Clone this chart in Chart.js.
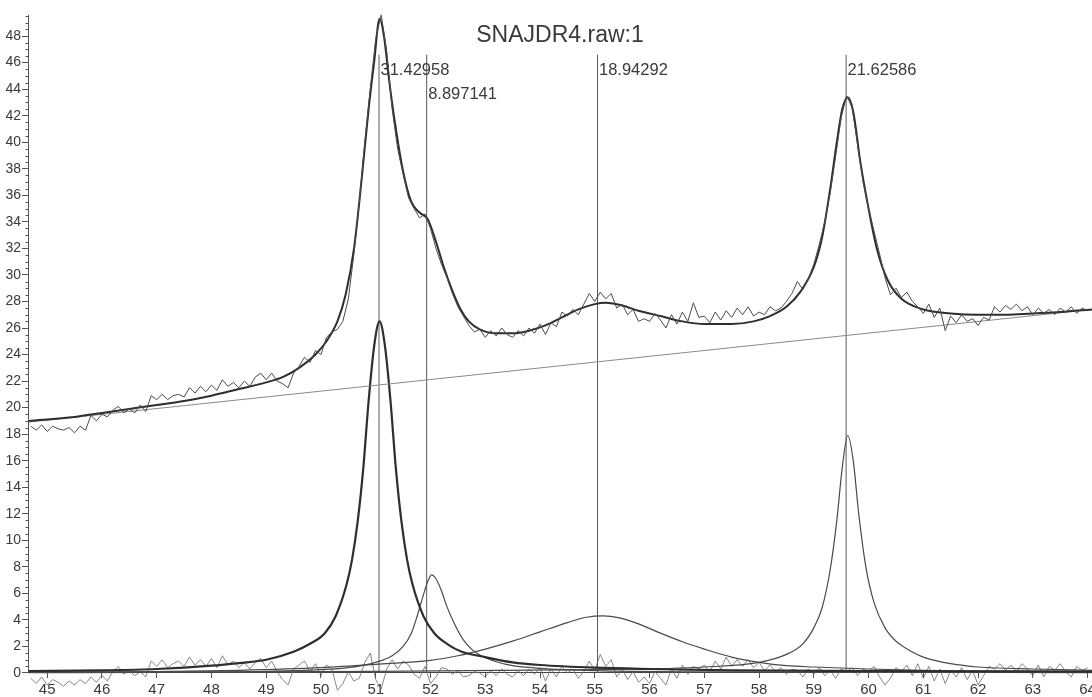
<!DOCTYPE html>
<html>
<head>
<meta charset="utf-8">
<title>SNAJDR4.raw:1</title>
<script src="https://cdn.jsdelivr.net/npm/chart.js@4.4.1/dist/chart.umd.min.js"></script>
<style>
  html, body { margin: 0; padding: 0; background: #fff; }
</style>
</head>
<body>
<canvas id="Chart" width="1092" height="697"></canvas>
<script>
// measured scan: 2-theta grid start / step
const SCAN_START = 44.7;
const SCAN_STEP = 0.1;

// measured counts, one value per step
const rawCounts = [
  18.6, 18.3, 18.7, 18.2, 18.6, 18.4, 18.3, 18.5, 18.1, 18.6,
  18.3, 19.4, 19.0, 19.5, 19.3, 19.8, 20.1, 19.6, 19.9, 19.6,
  20.2, 19.7, 20.9, 20.6, 21.0, 20.6, 20.9, 21.0, 20.8, 21.5,
  21.1, 21.6, 21.2, 21.7, 21.3, 22.1, 21.6, 21.9, 21.5, 22.0,
  21.6, 22.3, 22.6, 22.1, 22.6, 22.0, 21.8, 21.5, 22.6, 23.1,
  23.8, 23.4, 24.3, 24.0, 25.3, 25.7, 25.9, 26.5, 28.2, 31.5,
  35.5, 40.0, 44.0, 47.8, 49.6, 46.9, 42.5, 39.5, 37.6, 35.8,
  35.0, 34.3, 34.6, 33.5, 32.0, 30.8, 29.8, 28.6, 27.6, 26.9,
  26.2, 25.7, 25.9, 25.3, 25.8, 25.4, 26.0, 25.5, 25.3, 25.8,
  25.4, 26.0, 25.6, 26.3, 25.5, 26.4, 26.1, 27.2, 26.9, 27.4,
  27.0, 27.8, 28.6, 28.0, 28.7, 28.2, 28.6, 27.5, 27.8, 27.0,
  27.4, 26.5, 26.7, 26.5, 27.1, 26.6, 26.0, 27.0, 26.3, 27.2,
  26.5, 27.9, 26.8, 26.9, 26.4, 27.2, 26.6, 27.3, 26.8, 27.5,
  27.0, 27.6, 26.9, 27.2, 27.0, 27.6, 27.3, 27.5, 28.0, 28.6,
  29.5, 28.9, 29.7, 30.8, 32.3, 34.0, 36.2, 39.0, 41.9, 43.5,
  42.6, 39.8, 37.0, 35.0, 33.3, 31.6, 29.8, 28.5, 29.0, 28.3,
  28.7, 28.0, 27.6, 27.1, 27.8, 26.8, 27.5, 25.8, 26.9, 26.4,
  27.0, 26.5, 26.7, 26.2, 26.8, 26.6, 27.6, 27.2, 27.7, 27.4,
  27.8, 27.3, 27.6, 27.0, 27.5, 27.1, 27.4, 27.0, 27.5, 27.2,
  27.6, 27.1, 27.5, 27.3
];

// difference curve (measured minus fitted), same grid
const diffCounts = [
  -0.4, -0.8, -0.3, -0.9, -0.5, -0.7, -1.0, -0.6, -0.9, -0.5,
  -0.8, -0.3, -0.7, -0.2, -0.6, 0.1, 0.5, -0.1, 0.2, -0.2,
  0.1, -0.3, 0.9, 0.5, 1.0, 0.4, 0.7, 0.9, 0.5, 1.2,
  0.6, 1.0, 0.5, 1.1, 0.4, 1.3, 0.6, 0.9, 0.4, 0.8,
  0.3, 0.8, 1.1, 0.4, 0.9, 0.1, -0.5, -0.9, 0.3, 0.6,
  0.9, 0.1, 0.7, -0.2, 0.6, 0.3, -1.3, -0.8, 0.1, -0.6,
  -0.4, 0.8, 1.5, -0.5, -1.2, 0.3, 1.0, 0.3, 0.9, 0.6,
  -0.1, -0.4, 0.5, -0.8, -0.3, 0.4, 0.3, -0.1, 0.2, -0.3,
  -0.2, 0.1, 0.0, -0.3, 0.2, -0.2, 0.3, -0.1, -0.3, 0.2,
  -0.2, 0.3, -0.1, 0.4, -0.6, 0.3, -0.3, 0.5, 0.0, 0.3,
  -0.4, 0.1, 0.9, 0.2, 1.4, 0.5, 1.0, -0.3, 0.3, -0.5,
  0.1, -0.7, -0.3, -0.8, 0.1, -0.4, -0.9, 0.3, -0.4, 0.6,
  -0.1, 0.5, 0.3, 0.6, 0.1, 0.9, 0.3, 1.2, 0.5, 1.0,
  0.5, 1.0, 0.4, 0.8, 0.2, 0.6, 0.1, 0.4, -0.1, 0.3,
  0.2, -0.3, 0.3, -0.1, 0.4, -0.2, 0.2, -0.4, 0.3, 0.1,
  0.4, -0.2, 0.3, 0.1, 0.5, -0.3, -0.9, -0.4, 0.4, 0.1,
  0.6, -0.2, 0.7, -0.4, 0.5, -0.6, 0.3, -0.8, 0.2, -0.3,
  0.4, -0.5, 0.2, -0.9, -0.2, 0.5, 0.3, 0.7, 0.2, 0.6,
  0.1, 0.7, 0.3, -0.2, 0.6, -0.3, 0.5, 0.2, 0.7, 0.1,
  -0.3, 0.5, 0.2, 0.4
];

// total fitted profile
const fitAngles = [44.65, 45.5, 46.0, 46.5, 47.0, 47.5, 48.0, 48.5, 49.0, 49.3,
  49.6, 49.9, 50.1, 50.3, 50.45, 50.6, 50.75, 50.87, 50.97, 51.07,
  51.15, 51.25, 51.35, 51.5, 51.65, 51.8, 51.95, 52.1, 52.25, 52.4,
  52.55, 52.7, 52.9, 53.2, 53.5, 53.8, 54.1, 54.4, 54.7, 55.0,
  55.2, 55.5, 55.8, 56.2, 56.6, 57.0, 57.5, 57.9, 58.2, 58.5,
  58.75, 59.0, 59.15, 59.3, 59.42, 59.52, 59.62, 59.72, 59.85, 60.0,
  60.15, 60.35, 60.6, 61.0, 61.5, 62.0, 62.5, 63.0, 63.5, 64.08];
const fitCounts = [19.0, 19.3, 19.6, 19.9, 20.2, 20.5, 20.9, 21.4, 21.9, 22.3,
  23.0, 24.0, 25.0, 26.5, 28.5, 31.9, 37.5, 42.5, 46.0, 49.3,
  48.0, 44.5, 41.5, 37.8, 35.5, 34.7, 34.2, 32.5, 30.5, 28.8,
  27.4, 26.5, 25.9, 25.6, 25.6, 25.8, 26.2, 26.8, 27.4, 27.8,
  27.9, 27.7, 27.3, 26.9, 26.5, 26.3, 26.3, 26.5, 26.9, 27.6,
  28.7, 30.6, 32.8, 36.5, 40.0, 42.5, 43.4, 42.3, 38.5, 35.0,
  32.0, 29.6, 28.2, 27.4, 27.1, 27.0, 27.0, 27.1, 27.2, 27.4];

// linear background
const bgAngles = [44.65, 64.08];
const bgCounts = [18.9, 27.4];

// peak 1 (51.07)
const p1Angles = [44.65, 46.0, 47.0, 48.0, 48.5, 49.0, 49.5, 49.8, 50.07, 50.27,
  50.47, 50.57, 50.67, 50.77, 50.87, 50.97, 51.07, 51.17, 51.27, 51.37,
  51.47, 51.57, 51.67, 51.87, 52.07, 52.3, 52.57, 53.0, 53.5, 54.0,
  55.0, 56.0, 57.5, 60.0, 64.08];
const p1Counts = [0.15, 0.2, 0.3, 0.55, 0.75, 1.0, 1.6, 2.2, 3.0, 4.3,
  6.7, 8.6, 11.4, 15.3, 20.5, 24.6, 26.5, 24.6, 20.5, 15.3,
  11.4, 8.6, 6.7, 4.3, 3.0, 2.2, 1.6, 1.2, 0.8, 0.6,
  0.4, 0.3, 0.2, 0.15, 0.1];

// peak 2 (52.0)
const p2Angles = [44.65, 47.0, 49.0, 50.0, 50.5, 51.0, 51.3, 51.5, 51.65, 51.75,
  51.85, 51.95, 52.02, 52.1, 52.2, 52.3, 52.45, 52.6, 52.75, 52.9,
  53.2, 53.5, 54.0, 55.0, 57.0, 60.0, 64.08];
const p2Counts = [0.03, 0.05, 0.12, 0.25, 0.4, 0.8, 1.3, 2.0, 3.0, 4.2,
  5.6, 6.9, 7.4, 7.1, 6.2, 5.0, 3.6, 2.5, 1.8, 1.35,
  0.85, 0.55, 0.35, 0.18, 0.08, 0.05, 0.03];

// peak 3 (55.15, broad)
const p3Angles = [44.65, 47.0, 48.5, 50.0, 51.0, 52.0, 52.5, 53.0, 53.5, 54.0,
  54.5, 54.85, 55.15, 55.45, 55.8, 56.2, 56.6, 57.0, 57.5, 58.0,
  58.5, 59.0, 60.0, 61.0, 62.0, 64.08];
const p3Counts = [0.05, 0.1, 0.2, 0.4, 0.65, 0.95, 1.3, 1.8, 2.4, 3.1,
  3.8, 4.2, 4.3, 4.15, 3.7, 3.0, 2.35, 1.8, 1.2, 0.8,
  0.55, 0.45, 0.3, 0.2, 0.15, 0.1];

// peak 4 (59.62)
const p4Angles = [44.65, 50.0, 55.0, 57.0, 58.0, 58.5, 58.8, 59.0, 59.15, 59.3,
  59.42, 59.52, 59.62, 59.72, 59.82, 59.95, 60.1, 60.3, 60.5, 60.75,
  61.0, 61.5, 62.0, 63.0, 64.08];
const p4Counts = [0.05, 0.1, 0.25, 0.45, 0.8, 1.4, 2.2, 3.4, 4.9, 7.8,
  11.5, 15.5, 17.9, 16.0, 12.0, 8.0, 5.3, 3.4, 2.4, 1.7,
  1.2, 0.7, 0.45, 0.3, 0.2];

// peak markers and their areas
const markerAngles = [51.06, 51.93, 55.05, 59.59];
const markerLabels = ["31.42958", "8.897141", "18.94292", "21.62586"];
const markerTop = 46.6;

// axis ticks
const xTicks = [45, 46, 47, 48, 49, 50, 51, 52, 53, 54, 55, 56, 57, 58, 59, 60, 61, 62, 63, 64];
const yTicks = [0, 2, 4, 6, 8, 10, 12, 14, 16, 18, 20, 22, 24, 26, 28, 30, 32, 34, 36, 38, 40, 42, 44, 46, 48];

const TITLE = "SNAJDR4.raw:1";
const FONT = '"Liberation Sans", Arial, sans-serif';
const INK = "#3a3a3a";

function pairs(xs, ys) {
  return xs.map((x, i) => ({ x: x, y: ys[i] }));
}
function scanPoints(vals) {
  return vals.map((v, i) => ({ x: +(SCAN_START + i * SCAN_STEP).toFixed(2), y: v }));
}
function lineSet(data, color, width, smooth) {
  return {
    data: data,
    borderColor: color,
    borderWidth: width,
    pointRadius: 0,
    fill: false,
    tension: 0,
    cubicInterpolationMode: smooth ? "monotone" : "default",
  };
}

const datasets = [
  lineSet(scanPoints(rawCounts), "#4a4a4a", 1, false),
  lineSet(pairs(fitAngles, fitCounts), "#2e2e2e", 2, true),
  lineSet(pairs(bgAngles, bgCounts), "#8a8a8a", 1, false),
  lineSet(pairs(p1Angles, p1Counts), "#2e2e2e", 2.2, true),
  lineSet(pairs(p2Angles, p2Counts), "#4a4a4a", 1.2, true),
  lineSet(pairs(p3Angles, p3Counts), "#4a4a4a", 1.2, true),
  lineSet(pairs(p4Angles, p4Counts), "#4a4a4a", 1.2, true),
  lineSet(scanPoints(diffCounts), "#6a6a6a", 0.8, false),
];
markerAngles.forEach((a) => {
  datasets.push(lineSet([{ x: a, y: 0 }, { x: a, y: markerTop }], "#5a5a5a", 1, false));
});

// title, peak labels, y axis line with minor ticks
const decorations = {
  id: "decorations",
  afterDraw(c) {
    const ctx = c.ctx;
    const xs = c.scales.x;
    const ys = c.scales.y;
    ctx.save();

    const ax = Math.round(xs.left) + 0.5;
    ctx.strokeStyle = "#555";
    ctx.lineWidth = 1;
    ctx.beginPath();
    ctx.moveTo(ax, ys.getPixelForValue(0));
    ctx.lineTo(ax, ys.getPixelForValue(49.6));
    for (let v = 0.5; v < 49.6; v += 0.5) {
      if (v % 2 === 0) continue;
      const py = Math.round(ys.getPixelForValue(v)) + 0.5;
      ctx.moveTo(ax, py);
      ctx.lineTo(ax - 3, py);
    }
    ctx.stroke();

    ctx.fillStyle = INK;
    ctx.font = "23px " + FONT;
    ctx.textAlign = "center";
    ctx.textBaseline = "alphabetic";
    ctx.fillText(TITLE, 560, 42);

    ctx.font = "16.5px " + FONT;
    ctx.textAlign = "left";
    markerLabels.forEach((t, i) => {
      const px = xs.getPixelForValue(markerAngles[i]);
      const base = i === 1 ? 99 : 75;
      ctx.fillText(t, px + 1.5, base);
    });
    ctx.restore();
  },
};

new Chart(document.getElementById("Chart"), {
  type: "line",
  data: { datasets: datasets },
  plugins: [decorations],
  options: {
    responsive: false,
    animation: false,
    events: [],
    layout: { padding: 0 },
    plugins: {
      legend: { display: false },
      tooltip: { enabled: false },
    },
    scales: {
      x: {
        type: "linear",
        position: { y: 0 },
        min: 44.65,
        max: 64.08,
        afterBuildTicks: (s) => {
          s.ticks = xTicks.map((v) => ({ value: v }));
        },
        afterFit: (s) => {
          s.paddingLeft = 0;
          s.paddingRight = 0;
        },
        grid: { drawOnChartArea: false, tickLength: 5, color: "#555" },
        border: { display: true, color: "#444", width: 1 },
        ticks: {
          color: INK,
          font: { family: FONT, size: 15 },
          padding: 3,
          maxRotation: 0,
          autoSkip: false,
          callback: (v) => String(v),
        },
      },
      y: {
        type: "linear",
        position: "left",
        min: -1.81,
        max: 50.72,
        afterBuildTicks: (s) => {
          s.ticks = yTicks.map((v) => ({ value: v }));
        },
        afterFit: (s) => {
          s.width = 28;
          s.paddingTop = 0;
          s.paddingBottom = 0;
        },
        grid: { drawOnChartArea: false, tickLength: 6, color: "#555" },
        border: { display: false },
        ticks: {
          color: INK,
          font: { family: FONT, size: 14 },
          padding: 1,
          autoSkip: false,
          callback: (v) => String(v),
        },
      },
    },
  },
});
</script>
</body>
</html>
